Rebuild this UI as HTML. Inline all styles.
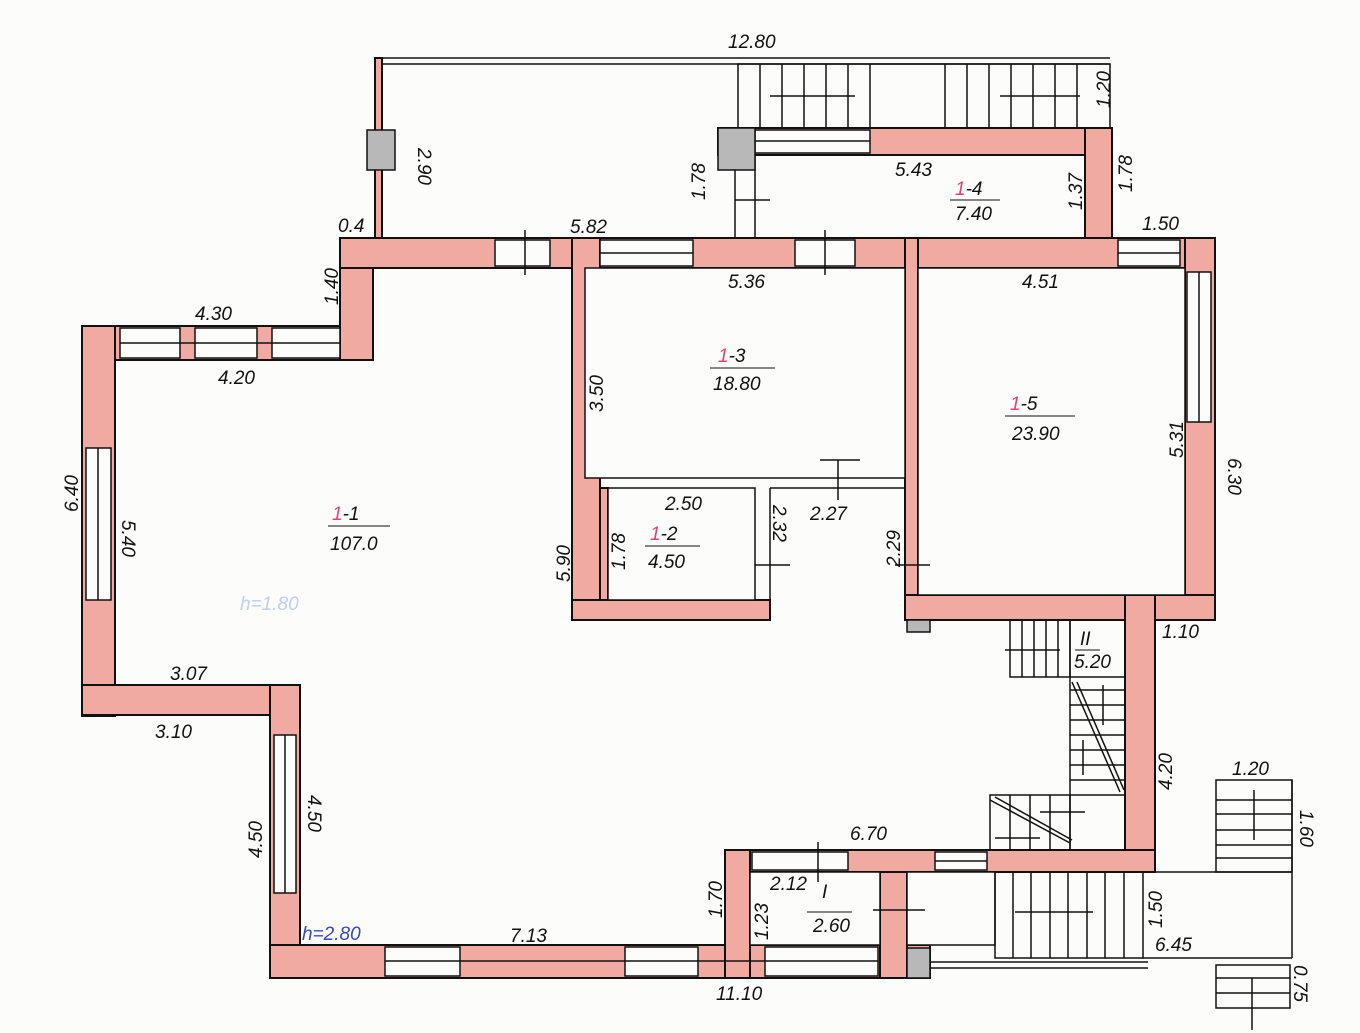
<!DOCTYPE html>
<html><head><meta charset="utf-8"><style>
html,body{margin:0;padding:0;background:#fcfcfa;}
svg{display:block}
text{font-family:"Liberation Sans",sans-serif;font-style:italic;fill:#111;font-size:19px}
</style></head><body>
<svg width="1360" height="1033" viewBox="0 0 1360 1033" xmlns="http://www.w3.org/2000/svg">
<rect width="1360" height="1033" fill="#fcfcfa"/>
<g fill="#f1aaa2" stroke="#111" stroke-width="2">
<rect x="82" y="326" width="288" height="34"/>
<rect x="82" y="326" width="33" height="390"/>
<rect x="82" y="685" width="218" height="30"/>
<rect x="270" y="685" width="30" height="293"/>
<rect x="270" y="945" width="660" height="33"/>
<rect x="340" y="238" width="33" height="122"/>
<rect x="340" y="238" width="875" height="30"/>
<rect x="1185" y="238" width="30" height="382"/>
<rect x="572" y="238" width="28" height="382"/>
<rect x="905" y="238" width="13" height="382"/>
<rect x="905" y="595" width="310" height="25"/>
<rect x="1125" y="595" width="30" height="277"/>
<rect x="725" y="850" width="430" height="22"/>
<rect x="725" y="850" width="25" height="128"/>
<rect x="572" y="600" width="198" height="20"/>
<rect x="600" y="488" width="8" height="112"/>
<rect x="880" y="872" width="27" height="106"/>
<rect x="718" y="128" width="394" height="27"/>
<rect x="1085" y="128" width="27" height="110"/>
<rect x="375" y="58" width="7" height="180"/>
</g>
<g fill="#fcfcfa" stroke="#111" stroke-width="1.5">
<rect x="120" y="328" width="60" height="30"/><rect x="195" y="328" width="62" height="30"/><rect x="272" y="328" width="68" height="30"/>
<rect x="86" y="448" width="25" height="152"/>
<rect x="274" y="735" width="22" height="158"/>
<rect x="385" y="947" width="75" height="29"/><rect x="625" y="947" width="73" height="29"/><rect x="765" y="947" width="113" height="29"/>
<rect x="495" y="240" width="55" height="26"/><rect x="600" y="240" width="93" height="26"/><rect x="795" y="240" width="60" height="26"/><rect x="1118" y="240" width="62" height="26"/>
<rect x="1187" y="272" width="24" height="150"/>
<rect x="752" y="852" width="96" height="18"/><rect x="935" y="852" width="52" height="18"/>
<rect x="755" y="130" width="115" height="23"/>
<rect x="918" y="268" width="267" height="327"/>
<rect x="585" y="268" width="320" height="210"/>
<rect x="608" y="488" width="147" height="112"/>
<rect x="750" y="872" width="130" height="73"/>
<rect x="907" y="872" width="88" height="73"/>
</g>
<g stroke="#111" stroke-width="1.5" fill="none">
<line x1="120" y1="343" x2="340" y2="343"/><line x1="98" y1="448" x2="98" y2="600"/>
<line x1="285" y1="735" x2="285" y2="893"/><line x1="385" y1="961" x2="878" y2="961"/>
<line x1="600" y1="253" x2="693" y2="253"/><line x1="1118" y1="253" x2="1180" y2="253"/>
<line x1="1199" y1="272" x2="1199" y2="422"/><line x1="755" y1="141" x2="870" y2="141"/>
<line x1="935" y1="861" x2="987" y2="861"/>
<line x1="375" y1="58" x2="1110" y2="58"/><line x1="382" y1="64" x2="1110" y2="64"/>
<line x1="755" y1="155" x2="755" y2="238"/>
<line x1="525" y1="230" x2="525" y2="275"/><line x1="825" y1="230" x2="825" y2="275"/>
<line x1="735" y1="200" x2="770" y2="200"/><line x1="735" y1="170" x2="735" y2="238"/>
<line x1="820" y1="460" x2="860" y2="460"/><line x1="838" y1="460" x2="838" y2="500"/>
<line x1="755" y1="565" x2="790" y2="565"/><line x1="895" y1="565" x2="930" y2="565"/>
<line x1="818" y1="842" x2="818" y2="882"/><line x1="873" y1="910" x2="925" y2="910"/>
<line x1="770" y1="488" x2="905" y2="488"/><line x1="770" y1="488" x2="770" y2="620"/>
<rect x="738" y="64" width="372" height="64"/>
<line x1="760" y1="64" x2="760" y2="128"/><line x1="782" y1="64" x2="782" y2="128"/><line x1="804" y1="64" x2="804" y2="128"/><line x1="826" y1="64" x2="826" y2="128"/><line x1="848" y1="64" x2="848" y2="128"/><line x1="870" y1="64" x2="870" y2="128"/>
<line x1="945" y1="64" x2="945" y2="128"/><line x1="967" y1="64" x2="967" y2="128"/><line x1="989" y1="64" x2="989" y2="128"/><line x1="1011" y1="64" x2="1011" y2="128"/><line x1="1033" y1="64" x2="1033" y2="128"/><line x1="1055" y1="64" x2="1055" y2="128"/><line x1="1077" y1="64" x2="1077" y2="128"/>
<line x1="770" y1="96" x2="855" y2="96"/><line x1="1000" y1="96" x2="1080" y2="96"/>
<rect x="1010" y="620" width="60" height="57"/>
<line x1="1022" y1="620" x2="1022" y2="677"/><line x1="1034" y1="620" x2="1034" y2="677"/><line x1="1046" y1="620" x2="1046" y2="677"/><line x1="1058" y1="620" x2="1058" y2="677"/>
<line x1="1005" y1="650" x2="1060" y2="650"/>
<line x1="1070" y1="620" x2="1070" y2="850"/><line x1="1070" y1="677" x2="1125" y2="677"/>
<line x1="1070" y1="690" x2="1125" y2="690"/><line x1="1070" y1="705" x2="1125" y2="705"/><line x1="1070" y1="720" x2="1125" y2="720"/><line x1="1070" y1="735" x2="1125" y2="735"/><line x1="1070" y1="750" x2="1125" y2="750"/><line x1="1070" y1="765" x2="1125" y2="765"/><line x1="1070" y1="780" x2="1125" y2="780"/><line x1="1070" y1="795" x2="1125" y2="795"/>
<line x1="1072" y1="682" x2="1120" y2="792"/><line x1="1077" y1="682" x2="1124" y2="790"/>
<line x1="1103" y1="685" x2="1103" y2="725"/><line x1="1083" y1="740" x2="1083" y2="775"/>
<rect x="990" y="795" width="80" height="55"/>
<line x1="1010" y1="795" x2="1010" y2="850"/><line x1="1030" y1="795" x2="1030" y2="850"/><line x1="1050" y1="795" x2="1050" y2="850"/>
<line x1="990" y1="800" x2="1070" y2="843"/><line x1="995" y1="797" x2="1072" y2="840"/>
<line x1="995" y1="838" x2="1040" y2="838"/><line x1="1040" y1="812" x2="1085" y2="812"/>
<line x1="1155" y1="620" x2="1155" y2="872"/>
<rect x="995" y="872" width="148" height="86"/>
<line x1="1013" y1="872" x2="1013" y2="958"/><line x1="1031" y1="872" x2="1031" y2="958"/><line x1="1050" y1="872" x2="1050" y2="958"/><line x1="1068" y1="872" x2="1068" y2="958"/><line x1="1087" y1="872" x2="1087" y2="958"/><line x1="1105" y1="872" x2="1105" y2="958"/><line x1="1124" y1="872" x2="1124" y2="958"/>
<line x1="1015" y1="912" x2="1093" y2="912"/>
<line x1="1143" y1="872" x2="1292" y2="872"/><line x1="1143" y1="958" x2="1292" y2="958"/><line x1="1292" y1="780" x2="1292" y2="958"/>
<line x1="930" y1="962" x2="1148" y2="962"/><line x1="930" y1="968" x2="1148" y2="968"/>
<rect x="1216" y="780" width="76" height="92"/>
<line x1="1216" y1="800" x2="1292" y2="800"/><line x1="1216" y1="814" x2="1292" y2="814"/><line x1="1216" y1="830" x2="1292" y2="830"/><line x1="1216" y1="845" x2="1292" y2="845"/><line x1="1216" y1="858" x2="1292" y2="858"/>
<line x1="1254" y1="790" x2="1254" y2="840"/>
<rect x="1216" y="965" width="74" height="43"/>
<line x1="1216" y1="978" x2="1290" y2="978"/><line x1="1216" y1="993" x2="1290" y2="993"/><line x1="1252" y1="978" x2="1252" y2="1030"/>
</g>
<g fill="#b8b8b8" stroke="#111" stroke-width="1.5">
<rect x="367" y="130" width="28" height="40"/>
<rect x="718" y="128" width="37" height="42"/>
<rect x="907" y="948" width="23" height="30"/>
<rect x="907" y="620" width="23" height="12"/>
</g>
<g>
<text x="728" y="48" font-size="22">12.80</text>
<text x="418" y="148" font-size="18" transform="rotate(90 418 148)">2.90</text>
<text x="1110" y="108" font-size="16" transform="rotate(-90 1110 108)">1.20</text>
<text x="1132" y="192" font-size="17" transform="rotate(-90 1132 192)">1.78</text>
<text x="1082" y="210" font-size="17" transform="rotate(-90 1082 210)">1.37</text>
<text x="705" y="200" font-size="17" transform="rotate(-90 705 200)">1.78</text>
<text x="895" y="176">5.43</text>
<text x="955" y="195" font-size="18"><tspan fill="#e0407a">1</tspan>-4</text>
<line x1="950" y1="200" x2="1000" y2="200" stroke="#111"/>
<text x="955" y="220" font-size="17">7.40</text>
<text x="338" y="232" font-size="15">0.4</text>
<text x="570" y="233">5.82</text>
<text x="1142" y="230" font-size="16">1.50</text>
<text x="338" y="305" font-size="18" transform="rotate(-90 338 305)">1.40</text>
<text x="195" y="320">4.30</text>
<text x="218" y="384">4.20</text>
<text x="728" y="288">5.36</text>
<text x="1022" y="288">4.51</text>
<text x="718" y="362" font-size="20"><tspan fill="#e0407a">1</tspan>-3</text>
<line x1="710" y1="368" x2="775" y2="368" stroke="#111"/>
<text x="713" y="390" font-size="18">18.80</text>
<text x="603" y="412" font-size="16" transform="rotate(-90 603 412)">3.50</text>
<text x="1010" y="410" font-size="20"><tspan fill="#e0407a">1</tspan>-5</text>
<line x1="1005" y1="416" x2="1075" y2="416" stroke="#111"/>
<text x="1012" y="440" font-size="20">23.90</text>
<text x="1183" y="458" font-size="18" transform="rotate(-90 1183 458)">5.31</text>
<text x="1228" y="458" font-size="20" transform="rotate(90 1228 458)">6.30</text>
<text x="78" y="512" font-size="20" transform="rotate(-90 78 512)">6.40</text>
<text x="122" y="520" font-size="18" transform="rotate(90 122 520)">5.40</text>
<text x="332" y="520" font-size="21"><tspan fill="#e0407a">1</tspan>-1</text>
<line x1="328" y1="526" x2="390" y2="526" stroke="#111"/>
<text x="330" y="550" font-size="20">107.0</text>
<text x="240" y="610" font-size="20" style="fill:#c0cfee">h=1.80</text>
<text x="665" y="510">2.50</text>
<text x="650" y="540" font-size="20"><tspan fill="#e0407a">1</tspan>-2</text>
<line x1="645" y1="546" x2="700" y2="546" stroke="#111"/>
<text x="648" y="568" font-size="18">4.50</text>
<text x="625" y="570" font-size="16" transform="rotate(-90 625 570)">1.78</text>
<text x="570" y="582" font-size="18" transform="rotate(-90 570 582)">5.90</text>
<text x="773" y="505" font-size="16" transform="rotate(90 773 505)">2.32</text>
<text x="810" y="520">2.27</text>
<text x="900" y="567" font-size="17" transform="rotate(-90 900 567)">2.29</text>
<text x="1162" y="638" font-size="15">1.10</text>
<text x="1080" y="645" font-size="15">II</text>
<line x1="1075" y1="650" x2="1100" y2="650" stroke="#111"/>
<text x="1074" y="668" font-size="15">5.20</text>
<text x="1172" y="790" font-size="20" transform="rotate(-90 1172 790)">4.20</text>
<text x="1232" y="775" font-size="18">1.20</text>
<text x="1300" y="810" font-size="15" transform="rotate(90 1300 810)">1.60</text>
<text x="1162" y="928" font-size="16" transform="rotate(-90 1162 928)">1.50</text>
<text x="1155" y="951">6.45</text>
<text x="1294" y="965" font-size="14" transform="rotate(90 1294 965)">0.75</text>
<text x="170" y="680" font-size="20">3.07</text>
<text x="155" y="738">3.10</text>
<text x="262" y="858" font-size="20" transform="rotate(-90 262 858)">4.50</text>
<text x="308" y="795" font-size="18" transform="rotate(90 308 795)">4.50</text>
<text x="302" y="940" font-size="24" style="fill:#3848c0">h=2.80</text>
<text x="510" y="942">7.13</text>
<text x="850" y="840">6.70</text>
<text x="722" y="918" font-size="16" transform="rotate(-90 722 918)">1.70</text>
<text x="770" y="890" font-size="15">2.12</text>
<text x="768" y="940" font-size="15" transform="rotate(-90 768 940)">1.23</text>
<text x="822" y="898" font-size="15">I</text>
<line x1="807" y1="912" x2="852" y2="912" stroke="#111"/>
<text x="813" y="932" font-size="16">2.60</text>
<text x="716" y="1000">11.10</text>
</g>
</svg>
</body></html>
